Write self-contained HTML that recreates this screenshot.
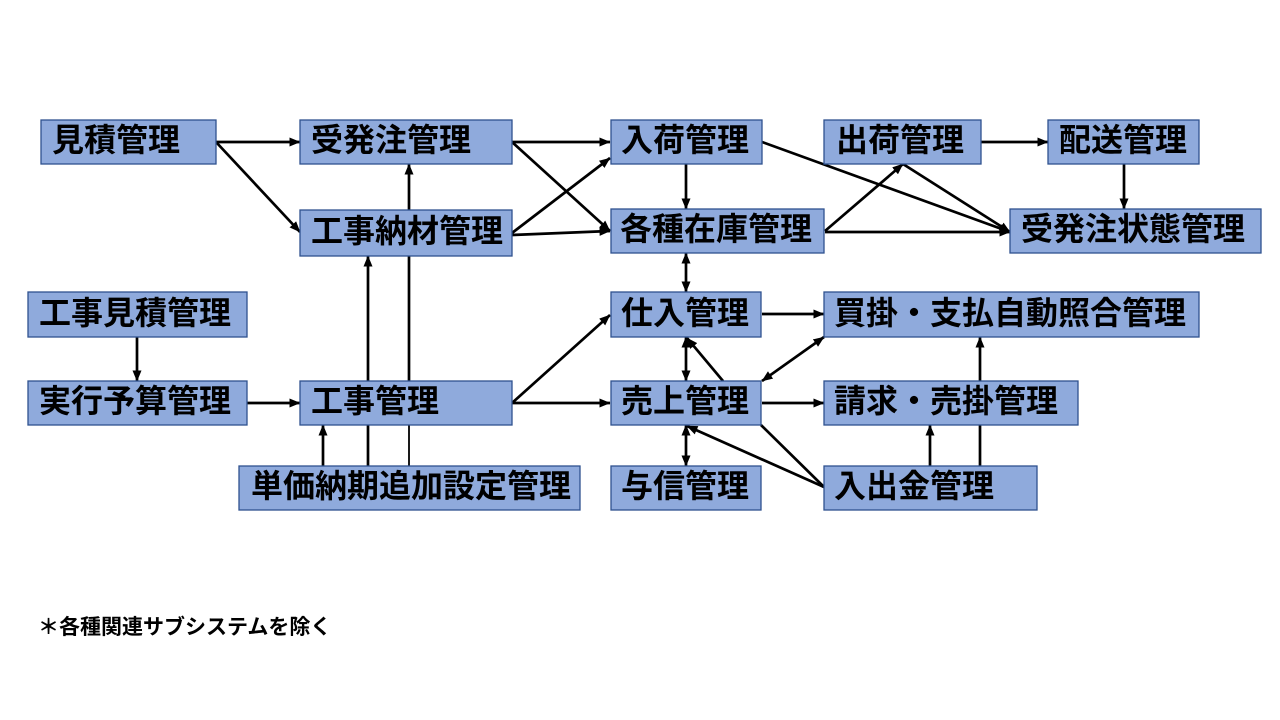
<!DOCTYPE html>
<html lang="ja">
<head>
<meta charset="utf-8">
<style>
  html, body { margin:0; padding:0; background:#ffffff; }
  body { width:1280px; height:720px; overflow:hidden; }
  svg { display:block; }
  .bx { fill:#8FAADC; stroke:#2F528F; stroke-width:1.3; }
  .t { font-family:"Liberation Sans","Noto Sans CJK JP",sans-serif; font-size:32px; font-weight:700; fill:#000; }
  .ln { stroke:#000; stroke-width:2.7; fill:none; }
  .ar { stroke:#000; stroke-width:2.7; fill:none; marker-end:url(#ah); }
  .dar { stroke:#000; stroke-width:2.7; fill:none; marker-end:url(#ah); marker-start:url(#ahs); }
  .note { font-family:"Liberation Sans","Noto Sans CJK JP",sans-serif; font-size:21px; font-weight:700; fill:#000; }
</style>
</head>
<body>
<svg width="1280" height="720" viewBox="0 0 1280 720" xmlns="http://www.w3.org/2000/svg">
  <defs>
    <marker id="ah" markerWidth="11" markerHeight="9" refX="10.5" refY="4.5" orient="auto" markerUnits="userSpaceOnUse">
      <path d="M0,0 L11,4.5 L0,9 z" fill="#000"/>
    </marker>
    <marker id="ahs" markerWidth="11" markerHeight="9" refX="10.5" refY="4.5" orient="auto-start-reverse" markerUnits="userSpaceOnUse">
      <path d="M0,0 L11,4.5 L0,9 z" fill="#000"/>
    </marker>
  </defs>

  <!-- connectors -->
  <line class="ar" x1="216" y1="142" x2="300" y2="142"/>
  <line class="ar" x1="216" y1="142" x2="300" y2="232"/>
  <line class="ar" x1="512" y1="142" x2="610" y2="142"/>
  <line class="ar" x1="512" y1="142" x2="610" y2="231"/>
  <line class="ar" x1="512" y1="233" x2="610" y2="158"/>
  <line class="ar" x1="512" y1="235" x2="610" y2="231"/>
  <line class="ar" x1="409" y1="210" x2="409" y2="164"/>
  <line class="ar" x1="686" y1="164" x2="686" y2="209"/>
  <line class="ar" x1="762" y1="142" x2="1010" y2="232"/>
  <line class="ar" x1="825" y1="231" x2="903" y2="164"/>
  <line class="ar" x1="903" y1="164" x2="1010" y2="232"/>
  <line class="ar" x1="825" y1="232" x2="1010" y2="232"/>
  <line class="ar" x1="981" y1="142" x2="1048" y2="142"/>
  <line class="ar" x1="1124" y1="164" x2="1124" y2="209"/>
  <line class="dar" x1="686" y1="253" x2="686" y2="292"/>

  <line class="ar" x1="137" y1="337" x2="137" y2="381"/>
  <line class="ar" x1="247" y1="403" x2="300" y2="403"/>
  <line class="ar" x1="512" y1="403" x2="610" y2="315"/>
  <line class="ar" x1="512" y1="403" x2="610" y2="403"/>
  <line class="ar" x1="323" y1="466" x2="323" y2="425"/>
  <line class="ln" x1="368" y1="466" x2="368" y2="425"/>
  <line class="ar" x1="368" y1="381" x2="368" y2="256"/>
  <line class="ln" x1="409" y1="466" x2="409" y2="425" style="stroke-width:1.8"/>
  <line class="ln" x1="409" y1="381" x2="409" y2="256"/>

  <line class="ar" x1="762" y1="314" x2="824" y2="314"/>
  <line class="dar" x1="686" y1="337" x2="686" y2="381"/>
  <line class="ar" x1="723" y1="381" x2="687" y2="338"/>
  <line class="dar" x1="762" y1="381" x2="824" y2="337"/>
  <line class="ar" x1="762" y1="403" x2="824" y2="403"/>
  <line class="dar" x1="686" y1="425" x2="686" y2="466"/>
  <line class="ar" x1="824" y1="487" x2="687" y2="426"/>
  <line class="ln" x1="761" y1="425" x2="824" y2="487"/>
  <line class="ar" x1="930" y1="466" x2="930" y2="425"/>
  <line class="ln" x1="980" y1="466" x2="980" y2="425"/>
  <line class="ar" x1="980" y1="381" x2="980" y2="337"/>

  <!-- boxes row 1 -->
  <rect class="bx" x="41" y="120" width="175" height="44"/>
  <text class="t" x="52" y="151">見積管理</text>
  <rect class="bx" x="300" y="120" width="212" height="44"/>
  <text class="t" x="311" y="151">受発注管理</text>
  <rect class="bx" x="611" y="120" width="151" height="44"/>
  <text class="t" x="621" y="151">入荷管理</text>
  <rect class="bx" x="824" y="120" width="157" height="44"/>
  <text class="t" x="836" y="151">出荷管理</text>
  <rect class="bx" x="1048" y="120" width="151" height="44"/>
  <text class="t" x="1059" y="151">配送管理</text>

  <!-- row 2 -->
  <rect class="bx" x="300" y="210" width="212" height="46"/>
  <text class="t" x="311" y="242">工事納材管理</text>
  <rect class="bx" x="611" y="209" width="213" height="44"/>
  <text class="t" x="620" y="240">各種在庫管理</text>
  <rect class="bx" x="1010" y="209" width="251" height="44"/>
  <text class="t" x="1021" y="240">受発注状態管理</text>

  <!-- row 3 -->
  <rect class="bx" x="28" y="292" width="219" height="45"/>
  <text class="t" x="39" y="324">工事見積管理</text>
  <rect class="bx" x="611" y="292" width="150" height="45"/>
  <text class="t" x="621" y="324">仕入管理</text>
  <rect class="bx" x="824" y="292" width="375" height="45"/>
  <text class="t" x="834" y="324">買掛・支払自動照合管理</text>

  <!-- row 4 -->
  <rect class="bx" x="28" y="381" width="219" height="44"/>
  <text class="t" x="39" y="412">実行予算管理</text>
  <rect class="bx" x="300" y="381" width="212" height="44"/>
  <text class="t" x="311" y="412">工事管理</text>
  <rect class="bx" x="611" y="381" width="150" height="44"/>
  <text class="t" x="621" y="412">売上管理</text>
  <rect class="bx" x="824" y="381" width="254" height="44"/>
  <text class="t" x="834" y="412">請求・売掛管理</text>

  <!-- row 5 -->
  <rect class="bx" x="239" y="466" width="341" height="44"/>
  <text class="t" x="251" y="497">単価納期追加設定管理</text>
  <rect class="bx" x="611" y="466" width="150" height="44"/>
  <text class="t" x="621" y="497">与信管理</text>
  <rect class="bx" x="824" y="466" width="213" height="44"/>
  <text class="t" x="834" y="497">入出金管理</text>

  <!-- footnote -->
  <text class="note" x="38" y="634">＊各種関連サブシステムを除く</text>
</svg>
</body>
</html>
